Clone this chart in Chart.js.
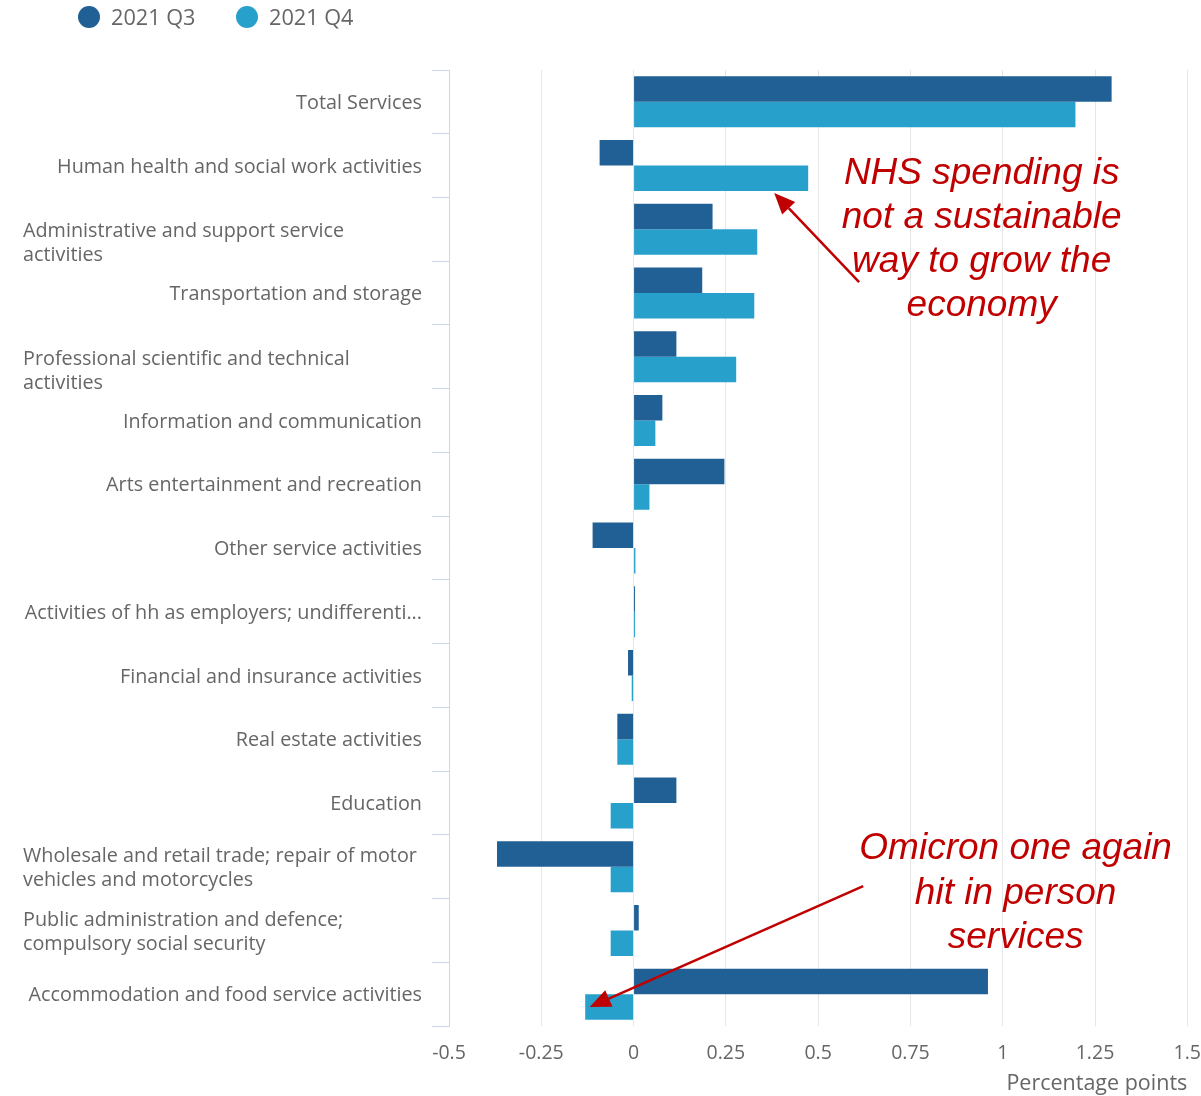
<!DOCTYPE html>
<html>
<head>
<meta charset="utf-8">
<script src="https://cdn.jsdelivr.net/npm/chart.js@4.4.1/dist/chart.umd.min.js"></script>
<style>
    html, body { margin: 0; padding: 0; background: #fff; overflow: hidden; }
    #caixa { width: 1201px; height: 1096px; overflow: hidden; }
</style>
</head>
<body>
<div id="caixa"><canvas id="grafico" width="1217" height="1097"></canvas></div>
<script>
// categorias (as que têm quebra de linha ficam como arrays)
const categorias = [
    'Total Services',
    'Human health and social work activities',
    ['Administrative and support service', 'activities'],
    'Transportation and storage',
    ['Professional scientific and technical', 'activities'],
    'Information and communication',
    'Arts entertainment and recreation',
    'Other service activities',
    'Activities of hh as employers; undifferenti...',
    'Financial and insurance activities',
    'Real estate activities',
    'Education',
    ['Wholesale and retail trade; repair of motor', 'vehicles and motorcycles'],
    ['Public administration and defence;', 'compulsory social security'],
    'Accommodation and food service activities'
];

const serieNomes = ['2021 Q3', '2021 Q4'];

const valoresQ3 = [1.295, -0.092, 0.214, 0.186, 0.116, 0.078, 0.246, -0.111, 0.004, -0.015, -0.044, 0.116, -0.370, 0.014, 0.960];
const valoresQ4 = [1.197, 0.473, 0.335, 0.327, 0.278, 0.059, 0.043, 0.005, 0.004, -0.005, -0.044, -0.062, -0.062, -0.062, -0.131];

const ticksX = [-0.5, -0.25, 0, 0.25, 0.5, 0.75, 1, 1.25, 1.5];

const cores = ['#206095', '#27a0cc'];

// textos das anotações
const notaNHS = ['NHS spending is', 'not a sustainable', 'way to grow the', 'economy'];
const notaOmicron = ['Omicron one again', 'hit in person', 'services'];

// desloca um pouco alguns rótulos de duas linhas (como no original)
const ajusteRotulo = {2: 13, 4: 13};

function seta(ctx, x1, y1, x2, y2) {
    const ang = Math.atan2(y2 - y1, x2 - x1);
    const comp = 21, larg = 9;
    const bx = x2 - comp * Math.cos(ang), by = y2 - comp * Math.sin(ang);
    ctx.beginPath();
    ctx.moveTo(x1, y1);
    ctx.lineTo(bx, by);
    ctx.stroke();
    ctx.beginPath();
    ctx.moveTo(x2, y2);
    ctx.lineTo(bx + larg * Math.sin(ang), by - larg * Math.cos(ang));
    ctx.lineTo(bx - larg * Math.sin(ang), by + larg * Math.cos(ang));
    ctx.closePath();
    ctx.fill();
}

const extrasPlugin = {
    id: 'extras',
    afterDraw(chart) {
        const ctx = chart.ctx;
        const xs = chart.scales.x, ys = chart.scales.y;
        const area = chart.chartArea;

        ctx.save();

        // rótulos do eixo y
        ctx.font = '19.8px "Open Sans"';
        ctx.fillStyle = '#666666';
        ctx.textBaseline = 'middle';
        categorias.forEach(function (cat, i) {
            const yc = ys.getPixelForValue(i) + 1.5;
            if (Array.isArray(cat)) {
                ctx.textAlign = 'left';
                const y0 = yc + (ajusteRotulo[i] || 0) - (cat.length - 1) * 12;
                cat.forEach((linha, k) => ctx.fillText(linha, area.left - 426, y0 + k * 24));
            } else {
                ctx.textAlign = 'right';
                ctx.fillText(cat, area.left - 27, yc);
            }
        });

        // legenda
        const legX = [89, 247];
        ctx.font = '21.7px "Open Sans"';
        ctx.textAlign = 'left';
        serieNomes.forEach(function (nome, i) {
            ctx.fillStyle = cores[i];
            ctx.beginPath();
            ctx.arc(legX[i], 17, 11, 0, Math.PI * 2);
            ctx.fill();
            ctx.fillStyle = '#666666';
            ctx.fillText(nome, legX[i] + 22, 19);
        });

        // anotações em vermelho
        ctx.fillStyle = '#c00000';
        ctx.strokeStyle = '#c00000';
        ctx.lineWidth = 2.5;
        ctx.font = 'italic 37px "Liberation Sans"';
        ctx.textAlign = 'center';

        let tx = xs.getPixelForValue(0.943), ty = ys.getPixelForValue(1.12);
        notaNHS.forEach((l, k) => ctx.fillText(l, tx, ty + k * 44));
        seta(ctx, xs.getPixelForValue(0.611), ys.getPixelForValue(2.827),
                  xs.getPixelForValue(0.381), ys.getPixelForValue(1.43));

        tx = xs.getPixelForValue(1.035); ty = ys.getPixelForValue(11.72);
        notaOmicron.forEach((l, k) => ctx.fillText(l, tx, ty + k * 44.5));
        seta(ctx, xs.getPixelForValue(0.622), ys.getPixelForValue(12.304),
                  xs.getPixelForValue(-0.119), ys.getPixelForValue(14.203));

        ctx.restore();
    }
};

const fonteEixo = {family: 'Open Sans', size: 19.5};

new Chart(document.getElementById('grafico').getContext('2d'), {
    type: 'bar',
    data: {
        labels: categorias.map(c => Array.isArray(c) ? c.join(' ') : c),
        datasets: [
            {label: serieNomes[0], data: valoresQ3, backgroundColor: cores[0], categoryPercentage: 0.8, barPercentage: 1.0},
            {label: serieNomes[1], data: valoresQ4, backgroundColor: cores[1], categoryPercentage: 0.8, barPercentage: 1.0}
        ]
    },
    options: {
        indexAxis: 'y',
        responsive: false,
        animation: false,
        devicePixelRatio: 1,
        layout: {padding: {top: 70, left: 23, right: 0, bottom: 0}},
        plugins: {
            legend: {display: false},
            tooltip: {enabled: false}
        },
        scales: {
            x: {
                min: ticksX[0],
                max: ticksX[ticksX.length - 1],
                afterBuildTicks: (scale) => { scale.ticks = ticksX.map(v => ({value: v})); },
                ticks: {
                    callback: v => String(Number(v.toFixed(2))),
                    color: '#666666',
                    font: fonteEixo,
                    padding: 16,
                    maxRotation: 0
                },
                grid: {color: '#e6e6e6', drawTicks: false},
                border: {display: false},
                title: {
                    display: true,
                    text: 'Percentage points',
                    align: 'end',
                    color: '#666666',
                    font: {family: 'Open Sans', size: 21.5},
                    padding: {top: 0, bottom: 0}
                },
                afterFit: (scale) => { scale.height = 71; }
            },
            y: {
                ticks: {display: false},
                grid: {color: '#ccd6eb', drawOnChartArea: false, tickLength: 17, offset: true},
                border: {color: '#ccd6eb'},
                afterFit: (scale) => { scale.width = 426; }
            }
        }
    },
    plugins: [extrasPlugin]
});
</script>
</body>
</html>
